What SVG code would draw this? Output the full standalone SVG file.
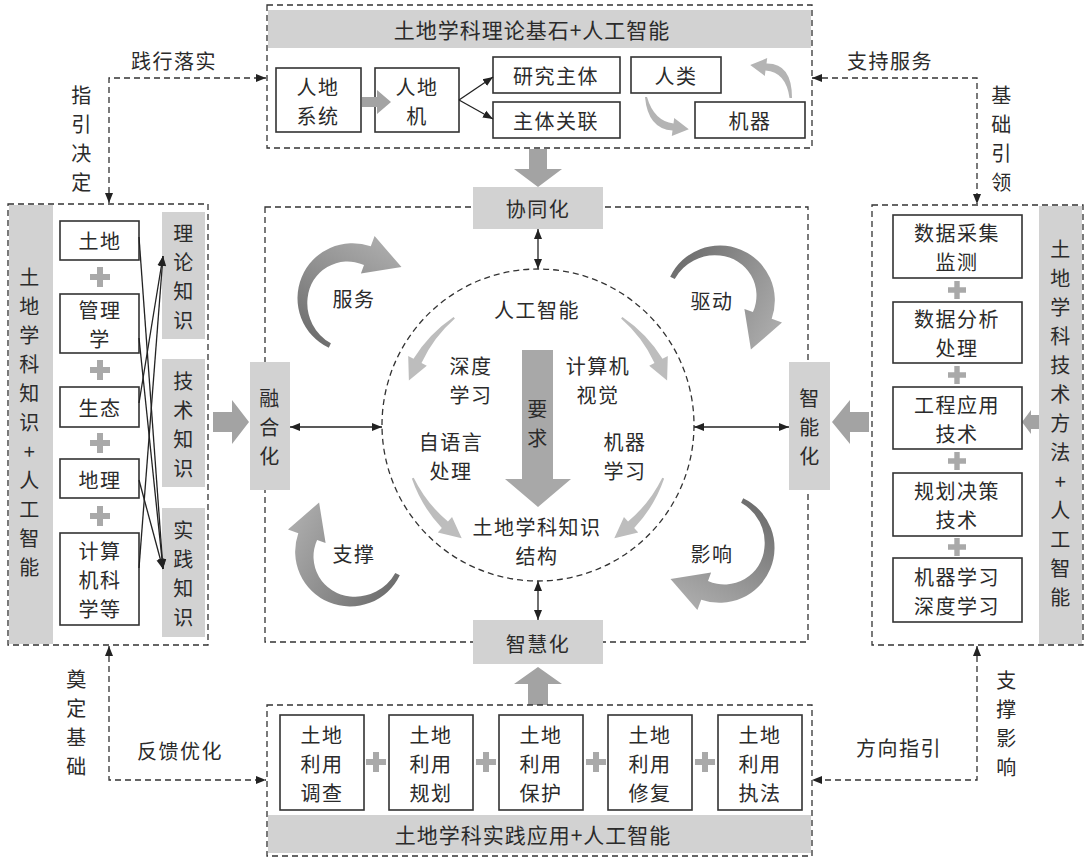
<svg xmlns="http://www.w3.org/2000/svg" width="1089" height="861" viewBox="0 0 1089 861">
<style>
.t{font-family:"Noto Sans CJK SC","Noto Sans CJK JP",sans-serif;font-size:20px;letter-spacing:1.5px;fill:#2b2b2b;text-anchor:middle;dominant-baseline:central}
.h{font-size:21px;letter-spacing:1px}
.box{fill:#fff;stroke:#333;stroke-width:1.6}
.dash{fill:none;stroke:#333;stroke-width:1.3;stroke-dasharray:6 4}
.gray{fill:#d2d2d2}
.blk{fill:#a3a3a3}
.ln{fill:none;stroke:#222;stroke-width:1.3}
.plus{fill:#a9a9a9}
.inner{fill:#bdbdbd}
</style>
<defs>
<marker id="ah" viewBox="0 0 10 10" refX="10" refY="5" markerWidth="10" markerHeight="10" markerUnits="userSpaceOnUse" orient="auto-start-reverse">
<path d="M0,1 L10,5 L0,9 Z" fill="#222"/>
</marker>
<linearGradient id="bg" gradientUnits="userSpaceOnUse" x1="-20" y1="50" x2="35" y2="-50">
<stop offset="0" stop-color="#6f6f6f"/>
<stop offset="1" stop-color="#aaaaaa"/>
</linearGradient>
<path id="big" fill="url(#bg)" d="M-23.2 49.8 A55 55 0 0 1 18.8 -51.7 L22.6 -62 L49.5 -30.9 L8.9 -24.4 L12 -32.9 A40 40 0 0 0 -44.4 0 A46 46 0 0 0 -21.1 45.3 Z"/>
<path id="ia" d="M-84.4 -108 A139 139 0 0 0 -124.5 -66.2 L-129.8 -69 L-129.1 -44.4 L-111.2 -59.2 L-116.5 -62 A134 134 0 0 1 -83.1 -106.4 Z"/>
<path id="plus" d="M-10 -3 H-3 V-10 H3 V-3 H10 V3 H3 V10 H-3 V3 H-10 Z"/>
</defs>

<g id="connectors">
<path class="dash" d="M109 203 V78 H266" marker-start="url(#ah)" marker-end="url(#ah)"/>
<path class="dash" d="M812 78 H977 V204" marker-start="url(#ah)" marker-end="url(#ah)"/>
<path class="dash" d="M109 646 V780 H266" marker-start="url(#ah)" marker-end="url(#ah)"/>
<path class="dash" d="M977 646 V780 H812" marker-start="url(#ah)" marker-end="url(#ah)"/>
<text class="t" x="174" y="60">践行落实</text>
<text class="t"><tspan x="82" y="94">指</tspan><tspan x="82" y="123">引</tspan><tspan x="82" y="152">决</tspan><tspan x="82" y="181">定</tspan></text>
<text class="t" x="890" y="60">支持服务</text>
<text class="t"><tspan x="1002" y="93.5">基</tspan><tspan x="1002" y="122.5">础</tspan><tspan x="1002" y="151.5">引</tspan><tspan x="1002" y="180.5">领</tspan></text>
<text class="t"><tspan x="77" y="678">奠</tspan><tspan x="77" y="707">定</tspan><tspan x="77" y="736">基</tspan><tspan x="77" y="765">础</tspan></text>
<text class="t" x="180" y="750">反馈优化</text>
<text class="t"><tspan x="1007" y="679">支</tspan><tspan x="1007" y="708">撑</tspan><tspan x="1007" y="737">影</tspan><tspan x="1007" y="766">响</tspan></text>
<text class="t" x="899" y="747">方向指引</text>
<polygon class="blk" points="529,149 547,149 547,169 562,169 538,187 514,169 529,169"/>
<polygon class="blk" points="538,667 562,684 548,684 548,705 528,705 528,684 514,684"/>
<polygon class="blk" points="213,412 232,412 232,400 249,422 232,444 232,432 213,432"/>
<polygon class="blk" points="869,412 850,412 850,400 832,422 850,444 850,432 869,432"/>
<polygon class="blk" points="1039,415 1031,415 1031,410 1022,422 1031,434 1031,429 1039,429"/>
<line class="ln" x1="538" y1="229" x2="538" y2="269" marker-start="url(#ah)" marker-end="url(#ah)"/>
<line class="ln" x1="538" y1="581" x2="538" y2="620" marker-start="url(#ah)" marker-end="url(#ah)"/>
<line class="ln" x1="290" y1="427" x2="382" y2="427" marker-start="url(#ah)" marker-end="url(#ah)"/>
<line class="ln" x1="694" y1="427" x2="789" y2="427" marker-start="url(#ah)" marker-end="url(#ah)"/>
</g>

<g id="top-box">
<rect class="dash" x="267" y="5" width="545" height="143"/>
<rect class="gray" x="268" y="10" width="543" height="38"/>
<text class="t h" x="532" y="29">土地学科理论基石+人工智能</text>
<rect class="box" x="276" y="68" width="85" height="64"/>
<text class="t"><tspan x="318" y="85.5">人地</tspan><tspan x="318" y="114.5">系统</tspan></text>
<rect class="box" x="375" y="68" width="84" height="64"/>
<text class="t"><tspan x="417" y="85.5">人地</tspan><tspan x="417" y="114.5">机</tspan></text>
<polygon class="blk" points="362,97 377,97 377,90 391,102 377,114 377,107 362,107"/>
<rect class="box" x="493" y="57" width="127" height="36"/>
<text class="t" x="556" y="75">研究主体</text>
<rect class="box" x="493" y="102" width="127" height="36"/>
<text class="t" x="556" y="120">主体关联</text>
<line class="ln" x1="459" y1="100" x2="493" y2="77" marker-end="url(#ah)"/>
<line class="ln" x1="459" y1="100" x2="493" y2="119" marker-end="url(#ah)"/>
<rect class="box" x="631" y="57" width="90" height="36"/>
<text class="t" x="676" y="75">人类</text>
<rect class="box" x="695" y="102" width="110" height="36"/>
<text class="t" x="750" y="120">机器</text>
<path fill="#b4b4b4" d="M645 97 Q648 129 672.5 130.5 L671.8 135.9 L688.8 129.2 L674.2 118.1 L673.5 123.5 Q654 121 647 97 Z"/>
<path fill="#b4b4b4" d="M792 98 Q792 63 766.5 63.5 L767.2 58.1 L750.2 64.9 L764.8 75.9 L765.5 70.5 Q786 72 789.5 98 Z"/>
</g>

<g id="left-panel">
<rect class="gray" x="9" y="205" width="44" height="439"/>
<rect class="dash" x="8" y="204" width="200" height="441"/>
<text class="t"><tspan x="30" y="275.5">土</tspan><tspan x="30" y="304.5">地</tspan><tspan x="30" y="333.5">学</tspan><tspan x="30" y="362.5">科</tspan><tspan x="30" y="391.5">知</tspan><tspan x="30" y="420.5">识</tspan><tspan x="30" y="449.5">+</tspan><tspan x="30" y="478.5">人</tspan><tspan x="30" y="507.5">工</tspan><tspan x="30" y="536.5">智</tspan><tspan x="30" y="565.5">能</tspan></text>
<rect class="box" x="60" y="221" width="79" height="39"/>
<text class="t" x="100" y="240">土地</text>
<rect class="box" x="60" y="294" width="79" height="59"/>
<text class="t"><tspan x="100" y="309">管理</tspan><tspan x="100" y="338">学</tspan></text>
<rect class="box" x="60" y="387" width="79" height="40"/>
<text class="t" x="100" y="407">生态</text>
<rect class="box" x="60" y="459" width="79" height="39"/>
<text class="t" x="100" y="479">地理</text>
<rect class="box" x="60" y="533" width="79" height="92"/>
<text class="t"><tspan x="100" y="550">计算</tspan><tspan x="100" y="579">机科</tspan><tspan x="100" y="608">学等</tspan></text>
<use href="#plus" class="plus" x="100" y="277"/>
<use href="#plus" class="plus" x="100" y="370"/>
<use href="#plus" class="plus" x="100" y="443"/>
<use href="#plus" class="plus" x="100" y="516"/>
<rect class="gray" x="162" y="212" width="43" height="127"/>
<text class="t"><tspan x="184" y="232">理</tspan><tspan x="184" y="261">论</tspan><tspan x="184" y="290">知</tspan><tspan x="184" y="319">识</tspan></text>
<rect class="gray" x="162" y="359" width="43" height="128"/>
<text class="t"><tspan x="184" y="379.5">技</tspan><tspan x="184" y="408.5">术</tspan><tspan x="184" y="437.5">知</tspan><tspan x="184" y="466.5">识</tspan></text>
<rect class="gray" x="162" y="508" width="43" height="129"/>
<text class="t"><tspan x="184" y="529">实</tspan><tspan x="184" y="558">践</tspan><tspan x="184" y="587">知</tspan><tspan x="184" y="616">识</tspan></text>
<line class="ln" x1="139" y1="237" x2="163" y2="569" marker-end="url(#ah)"/>
<line class="ln" x1="139" y1="338" x2="163" y2="569" marker-end="url(#ah)"/>
<line class="ln" x1="139" y1="480" x2="163" y2="569" marker-end="url(#ah)"/>
<line class="ln" x1="139" y1="403" x2="163" y2="256" marker-end="url(#ah)"/>
<line class="ln" x1="139" y1="568" x2="163" y2="256" marker-end="url(#ah)"/>
</g>

<g id="right-panel">
<rect class="gray" x="1039" y="206" width="43" height="438"/>
<rect class="dash" x="872" y="205" width="211" height="440"/>
<text class="t"><tspan x="1061" y="248">土</tspan><tspan x="1061" y="277">地</tspan><tspan x="1061" y="306">学</tspan><tspan x="1061" y="335">科</tspan><tspan x="1061" y="364">技</tspan><tspan x="1061" y="393">术</tspan><tspan x="1061" y="422">方</tspan><tspan x="1061" y="451">法</tspan><tspan x="1061" y="480">+</tspan><tspan x="1061" y="509">人</tspan><tspan x="1061" y="538">工</tspan><tspan x="1061" y="567">智</tspan><tspan x="1061" y="596">能</tspan></text>
<rect class="box" x="893" y="215" width="129" height="63"/>
<text class="t"><tspan x="957" y="232">数据采集</tspan><tspan x="957" y="261">监测</tspan></text>
<rect class="box" x="893" y="302" width="129" height="61"/>
<text class="t"><tspan x="957" y="318">数据分析</tspan><tspan x="957" y="347">处理</tspan></text>
<rect class="box" x="893" y="387" width="129" height="62"/>
<text class="t"><tspan x="957" y="403.5">工程应用</tspan><tspan x="957" y="432.5">技术</tspan></text>
<rect class="box" x="893" y="473" width="129" height="63"/>
<text class="t"><tspan x="957" y="490">规划决策</tspan><tspan x="957" y="519">技术</tspan></text>
<rect class="box" x="893" y="558" width="129" height="64"/>
<text class="t"><tspan x="957" y="575.5">机器学习</tspan><tspan x="957" y="604.5">深度学习</tspan></text>
<use href="#plus" class="plus" transform="translate(957,290) scale(0.9)"/>
<use href="#plus" class="plus" transform="translate(957,375) scale(0.9)"/>
<use href="#plus" class="plus" transform="translate(957,461) scale(0.9)"/>
<use href="#plus" class="plus" transform="translate(957,547) scale(0.9)"/>
</g>

<g id="bottom-box">
<rect class="dash" x="267" y="705" width="545" height="151"/>
<rect class="gray" x="268" y="815" width="543" height="38"/>
<text class="t h" x="533" y="834">土地学科实践应用+人工智能</text>
<rect class="box" x="280" y="715" width="84" height="95"/>
<text class="t"><tspan x="322" y="733.5">土地</tspan><tspan x="322" y="762.5">利用</tspan><tspan x="322" y="791.5">调查</tspan></text>
<rect class="box" x="389" y="715" width="84" height="95"/>
<text class="t"><tspan x="431" y="733.5">土地</tspan><tspan x="431" y="762.5">利用</tspan><tspan x="431" y="791.5">规划</tspan></text>
<rect class="box" x="499" y="715" width="84" height="95"/>
<text class="t"><tspan x="541" y="733.5">土地</tspan><tspan x="541" y="762.5">利用</tspan><tspan x="541" y="791.5">保护</tspan></text>
<rect class="box" x="608" y="715" width="84" height="95"/>
<text class="t"><tspan x="650" y="733.5">土地</tspan><tspan x="650" y="762.5">利用</tspan><tspan x="650" y="791.5">修复</tspan></text>
<rect class="box" x="718" y="715" width="84" height="95"/>
<text class="t"><tspan x="760" y="733.5">土地</tspan><tspan x="760" y="762.5">利用</tspan><tspan x="760" y="791.5">执法</tspan></text>
<use href="#plus" class="plus" x="376" y="762"/>
<use href="#plus" class="plus" x="486" y="762"/>
<use href="#plus" class="plus" x="596" y="762"/>
<use href="#plus" class="plus" x="705" y="762"/>
</g>

<g id="center-frame">
<rect class="dash" x="265" y="207" width="543" height="435"/>
<circle class="dash" cx="538" cy="425" r="156"/>
</g>

<g id="outer-arrows">
<use href="#big" transform="translate(352,298)"/>
<use href="#big" transform="translate(720,300) rotate(90)"/>
<use href="#big" transform="translate(720,548) rotate(180)"/>
<use href="#big" transform="translate(350,552) rotate(270)"/>
<text class="t" x="354" y="298">服务</text>
<text class="t" x="712" y="300">驱动</text>
<text class="t" x="712" y="553">影响</text>
<text class="t" x="354" y="553">支撑</text>
</g>

<g id="node-xietong">
<rect class="gray" x="473" y="187" width="130" height="42"/>
<text class="t" x="538" y="208">协同化</text>
</g>
<g id="node-zhihui">
<rect class="gray" x="473" y="620" width="130" height="44"/>
<text class="t" x="538" y="643">智慧化</text>
</g>
<g id="node-ronghe">
<rect class="gray" x="250" y="362" width="40" height="128"/>
<text class="t"><tspan x="270" y="397">融</tspan><tspan x="270" y="426">合</tspan><tspan x="270" y="455">化</tspan></text>
</g>
<g id="node-zhineng">
<rect class="gray" x="789" y="362" width="41" height="128"/>
<text class="t"><tspan x="810" y="397">智</tspan><tspan x="810" y="426">能</tspan><tspan x="810" y="455">化</tspan></text>
</g>

<g id="circle-content">
<g transform="translate(538,425)" class="inner">
<use href="#ia"/>
<use href="#ia" transform="scale(-1,1)"/>
<use href="#ia" transform="rotate(-75)"/>
<use href="#ia" transform="scale(-1,1) rotate(-75)"/>
</g>
<polygon fill="#a8a8a8" points="522,350 553,350 553,479 571,479 538,507 505,479 522,479"/>
<text class="t"><tspan x="538" y="408">要</tspan><tspan x="538" y="437">求</tspan></text>
<text class="t" x="537" y="309">人工智能</text>
<text class="t"><tspan x="471" y="364.5">深度</tspan><tspan x="471" y="393.5">学习</tspan></text>
<text class="t"><tspan x="598" y="364.5">计算机</tspan><tspan x="598" y="393.5">视觉</tspan></text>
<text class="t"><tspan x="451" y="441">自语言</tspan><tspan x="451" y="470">处理</tspan></text>
<text class="t"><tspan x="625" y="441">机器</tspan><tspan x="625" y="470">学习</tspan></text>
<text class="t"><tspan x="537" y="526">土地学科知识</tspan><tspan x="537" y="555">结构</tspan></text>
</g>
</svg>
